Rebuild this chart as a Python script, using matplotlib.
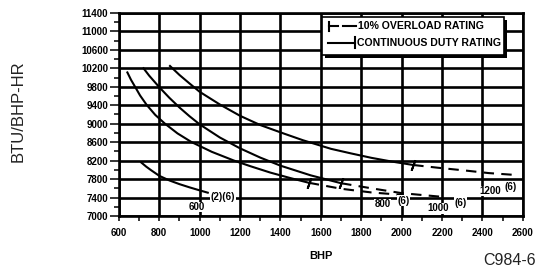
import matplotlib
matplotlib.use("Agg")
import matplotlib.pyplot as plt
from matplotlib.patches import Rectangle
from matplotlib.lines import Line2D

plt.rcParams['font.family'] = ['Liberation Sans', 'DejaVu Sans']

# BHP / BTU per BHP-HR, one pair of lists per speed
# continuous duty part (solid)
bhp_600 = [711, 735, 760, 800, 850, 900, 950, 1000, 1040]
btu_600 = [8158, 8070, 7990, 7870, 7770, 7690, 7620, 7555, 7505]

bhp_800 = [642, 660, 680, 705, 737, 780, 828, 890, 960, 1060, 1170, 1250, 1350, 1450, 1540]
btu_800 = [10110, 9950, 9800, 9610, 9410, 9190, 9000, 8790, 8600, 8390, 8200, 8080, 7940, 7820, 7720]

bhp_1000 = [722, 750, 800, 850, 900, 950, 1000, 1100, 1200, 1300, 1400, 1550, 1700]
btu_1000 = [10200, 10040, 9790, 9560, 9350, 9160, 8985, 8700, 8465, 8265, 8090, 7880, 7710]

bhp_1200 = [853, 900, 950, 1000, 1100, 1200, 1300, 1414, 1512, 1650, 1750, 1850, 1950, 2057]
btu_1200 = [10250, 10055, 9870, 9690, 9415, 9170, 8970, 8790, 8640, 8455, 8355, 8260, 8180, 8105]

# 10% overload part (dashed)
bhp_800_ovl = [1540, 1700, 1850, 2010]
btu_800_ovl = [7720, 7590, 7510, 7455]

bhp_1000_ovl = [1700, 1850, 2000, 2200]
btu_1000_ovl = [7710, 7600, 7495, 7415]

bhp_1200_ovl = [2057, 2180, 2315, 2430, 2575]
btu_1200_ovl = [8105, 8045, 7985, 7930, 7885]

# continuous rating marks
rating_bhp = [1540, 1700, 2057]
rating_btu = [7720, 7710, 8105]

x_ticks = list(range(600, 2601, 200))
y_ticks = list(range(7000, 11401, 400))

fig = plt.figure(figsize=(5.37, 2.71), dpi=100)
ax = fig.add_axes([0.2214, 0.2030, 0.7523, 0.7494])
ax.set_xlim(600, 2600)
ax.set_ylim(7000, 11400)

ax.set_xticks(x_ticks, labels=[str(v) for v in x_ticks], fontsize=7, fontweight='bold')
ax.set_xticks(range(700, 2600, 200), minor=True)
ax.set_yticks(y_ticks, labels=[str(v) for v in y_ticks], fontsize=7, fontweight='bold')
ax.set_yticks(range(7200, 11400, 400), minor=True)
ax.tick_params(axis='x', which='both', direction='out', length=3.8, width=1.1, pad=4.5)
ax.tick_params(axis='y', which='major', direction='out', length=6.5, width=1.1, pad=1.2)
ax.tick_params(axis='y', which='minor', direction='out', length=3.5, width=1.1)

ax.grid(which='major', color='black', lw=1.9)
ax.set_axisbelow(True)
for s in ax.spines.values():
    s.set_linewidth(1.9)

lw = 1.5
dash = (0, (5, 3.5))
for b, t in [(bhp_600, btu_600), (bhp_800, btu_800), (bhp_1000, btu_1000),
             (bhp_1200, btu_1200)]:
    ax.plot(b, t, color='black', lw=lw, zorder=3, solid_joinstyle='round')
for b, t in [(bhp_800_ovl, btu_800_ovl), (bhp_1000_ovl, btu_1000_ovl),
             (bhp_1200_ovl, btu_1200_ovl)]:
    ax.plot(b, t, color='black', lw=lw, ls=dash, zorder=3)
ax.plot(rating_bhp, rating_btu, ls='none', marker=(2, 2, -20), ms=8,
        mec='black', mew=1.4, zorder=4)

# speed labels
lbl = dict(fontsize=7, fontweight='bold', color='black', zorder=4,
           ha='center', va='center',
           bbox=dict(facecolor='white', edgecolor='none', pad=0.3))
ax.text(983, 7195, '600', **lbl)
ax.text(1115, 7410, '(2)(6)', **lbl)
ax.text(1905, 7255, '800', **lbl)
ax.text(2010, 7330, '(6)', **lbl)
ax.text(2180, 7170, '1000', **lbl)
ax.text(2290, 7285, '(6)', **lbl)
ax.text(2440, 7540, '1200', **lbl)
ax.text(2540, 7635, '(6)', **lbl)

# legend box with drop shadow
tr = ax.transAxes
ax.add_patch(Rectangle((0.510, 0.778), 0.451, 0.189, transform=tr,
                       facecolor='black', edgecolor='none', zorder=5))
ax.add_patch(Rectangle((0.502, 0.793), 0.451, 0.189, transform=tr,
                       facecolor='white', edgecolor='black', lw=1.2, zorder=6))
for xs, ys in [([0.521, 0.521], [0.911, 0.956]),
               ([0.521, 0.542], [0.9335, 0.9335]),
               ([0.555, 0.587], [0.9335, 0.9335]),
               ([0.518, 0.584], [0.854, 0.854]),
               ([0.584, 0.584], [0.828, 0.882])]:
    ax.add_line(Line2D(xs, ys, transform=tr, color='black', lw=1.5, zorder=7))
ax.text(0.593, 0.9335, '10% OVERLOAD RATING', transform=tr, fontsize=7.6,
        fontweight='bold', va='center', ha='left', zorder=7)
ax.text(0.589, 0.854, 'CONTINUOUS DUTY RATING', transform=tr, fontsize=7.6,
        fontweight='bold', va='center', ha='left', zorder=7)

fig.text(0.0335, 0.59, 'BTU/BHP-HR', rotation=90, fontsize=12,
         ha='center', va='center', color='#222222')
fig.text(0.598, 0.055, 'BHP', fontsize=8, fontweight='bold',
         ha='center', va='center')
fig.text(0.997, 0.040, 'C984-6', fontsize=11.5, ha='right', va='center',
         color='#222222')

fig.savefig('out.png', dpi=100, facecolor='white')
